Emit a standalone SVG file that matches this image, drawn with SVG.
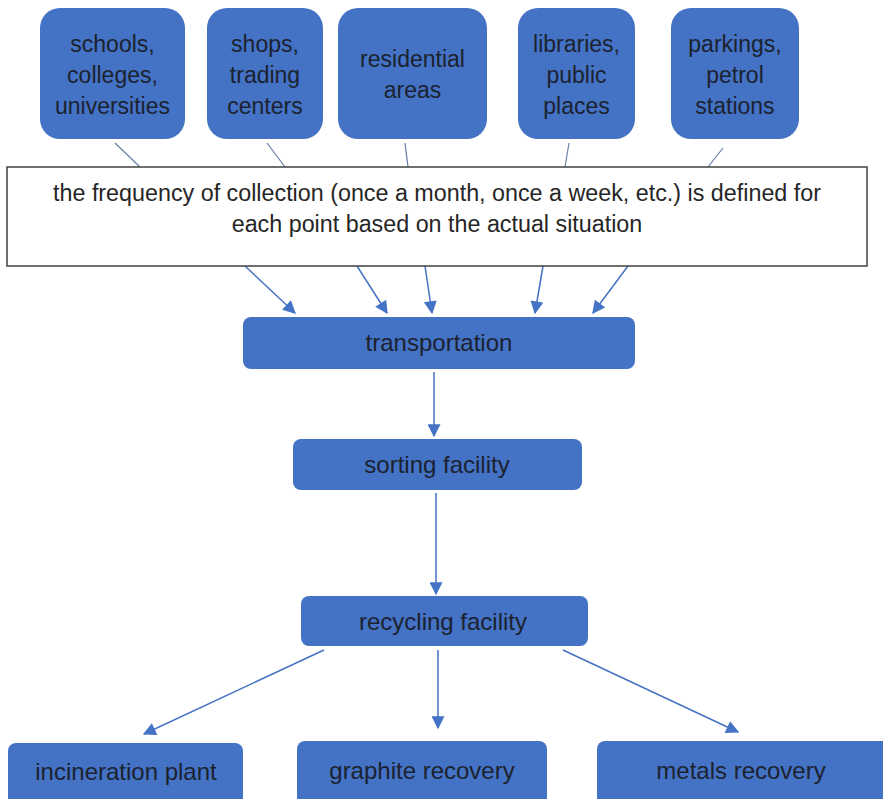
<svg xmlns="http://www.w3.org/2000/svg" width="883" height="799" viewBox="0 0 883 799">
<defs>
<style>
.node{fill:#4472C4;}
.lbl{font-family:"Liberation Sans",Arial,sans-serif;font-size:23px;fill:#1b2230;text-anchor:middle;}
.big{font-size:24px;}
.main{font-family:"Liberation Sans",Arial,sans-serif;font-size:23.3px;fill:#262626;text-anchor:middle;}
.thin{stroke:#6a7fa8;stroke-width:1.2;fill:none;}
.arr{stroke:#4472C4;stroke-width:1.5;fill:none;marker-end:url(#ah);}
</style>
<marker id="ah" viewBox="0 0 10 10" refX="9" refY="5" markerWidth="14" markerHeight="13" markerUnits="userSpaceOnUse" orient="auto">
<path d="M0,0 L10,5 L0,10 z" fill="#4472C4"/>
</marker>
</defs>
<rect width="883" height="799" fill="#ffffff"/>
<g id="connectors">
<line class="thin" x1="115" y1="143" x2="140" y2="167"/>
<line class="thin" x1="267" y1="143" x2="285" y2="167"/>
<line class="thin" x1="405" y1="143" x2="408" y2="167"/>
<line class="thin" x1="569" y1="143" x2="565" y2="167"/>
<line class="thin" x1="723" y1="148" x2="708" y2="167"/>
<line class="arr" x1="245" y1="266" x2="295" y2="313"/>
<line class="arr" x1="357" y1="266" x2="387" y2="313"/>
<line class="arr" x1="425" y1="266" x2="432" y2="313"/>
<line class="arr" x1="543" y1="266" x2="535" y2="313"/>
<line class="arr" x1="628" y1="266" x2="593" y2="313"/>
<line class="arr" x1="434" y1="372" x2="434" y2="436"/>
<line class="arr" x1="436" y1="493" x2="436" y2="594"/>
<line class="arr" x1="324" y1="650" x2="144" y2="734"/>
<line class="arr" x1="438" y1="650" x2="438" y2="728"/>
<line class="arr" x1="563" y1="650" x2="738" y2="732"/>
</g>
<g id="n-schools"><rect class="node" x="40" y="8" width="145" height="131" rx="20"/><text class="lbl" x="112.5" y="52">schools,</text><text class="lbl" x="112.5" y="83">colleges,</text><text class="lbl" x="112.5" y="114">universities</text></g>
<g id="n-shops"><rect class="node" x="207" y="8" width="116" height="131" rx="20"/><text class="lbl" x="265" y="52">shops,</text><text class="lbl" x="265" y="83">trading</text><text class="lbl" x="265" y="114">centers</text></g>
<g id="n-residential"><rect class="node" x="338" y="8" width="149" height="131" rx="20"/><text class="lbl" x="412.5" y="67">residential</text><text class="lbl" x="412.5" y="98">areas</text></g>
<g id="n-libraries"><rect class="node" x="518" y="8" width="117" height="131" rx="20"/><text class="lbl" x="576.5" y="52">libraries,</text><text class="lbl" x="576.5" y="83">public</text><text class="lbl" x="576.5" y="114">places</text></g>
<g id="n-parkings"><rect class="node" x="671" y="8" width="128" height="131" rx="20"/><text class="lbl" x="735" y="52">parkings,</text><text class="lbl" x="735" y="83">petrol</text><text class="lbl" x="735" y="114">stations</text></g>
<g id="n-frequency"><rect x="7" y="167" width="860" height="99" fill="#ffffff" stroke="#404040" stroke-width="1.5"/><text class="main" x="437" y="201">the frequency of collection (once a month, once a week, etc.) is defined for</text><text class="main" x="437" y="232">each point based on the actual situation</text></g>
<g id="n-transportation"><rect class="node" x="243" y="317" width="392" height="52" rx="8"/><text class="lbl big" x="439" y="351">transportation</text></g>
<g id="n-sorting"><rect class="node" x="293" y="439" width="289" height="51" rx="8"/><text class="lbl big" x="437" y="473">sorting facility</text></g>
<g id="n-recycling"><rect class="node" x="301" y="596" width="287" height="50" rx="8"/><text class="lbl big" x="443" y="630">recycling facility</text></g>
<g id="n-incineration"><rect class="node" x="8" y="743" width="235" height="70" rx="8"/><text class="lbl big" x="126" y="780">incineration plant</text></g>
<g id="n-graphite"><rect class="node" x="297" y="741" width="250" height="72" rx="8"/><text class="lbl big" x="422" y="779">graphite recovery</text></g>
<g id="n-metals"><rect class="node" x="597" y="741" width="300" height="72" rx="8"/><text class="lbl big" x="741" y="779">metals recovery</text></g>
</svg>
